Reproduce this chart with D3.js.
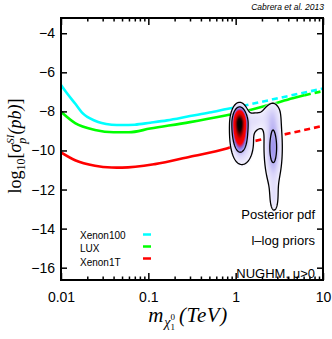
<!DOCTYPE html>
<html>
<head>
<meta charset="utf-8">
<script src="https://cdn.jsdelivr.net/npm/d3@7"></script>
<style>
  body { margin: 0; background: #fff; }
  svg { display: block; font-family: "Liberation Sans", Arial, sans-serif; }
  .axis text { font-size: 14px; fill: #000; }
  .axis line { stroke: #000; stroke-width: 1.5; }
</style>
</head>
<body>
<div id="chart"></div>
<script>
// ---- data (mass in TeV, log10 sigma in pb) ----
const massTicks = [0.01, 0.1, 1, 10];
const massLabels = ["0.01", "0.1", "1", "10"];
const sigmaTicks = [-16, -14, -12, -10, -8, -6, -4];

const xenon100Solid = [[0.01, -6.65], [0.0116, -7.05], [0.0145, -7.6], [0.0173, -8.05], [0.0245, -8.48],
  [0.0292, -8.6], [0.038, -8.68], [0.05, -8.7], [0.07, -8.68], [0.105, -8.58], [0.164, -8.46],
  [0.3, -8.24], [0.5, -8.06], [0.79, -7.88], [1.2, -7.72]];
const xenon100Dashed = [[1.2, -7.72], [10, -6.83]];

const luxSolid = [[0.01, -8.02], [0.0145, -8.6], [0.0245, -8.95], [0.04, -9.07], [0.06, -9.07],
  [0.105, -8.88], [0.3, -8.55], [0.79, -8.2], [1.0, -8.11], [2.5, -7.65], [4.5, -7.33], [6.2, -7.17]];
const luxDashed = [[6.2, -7.17], [10, -6.96]];

const xenon1tSolid = [[0.01, -10.1], [0.0145, -10.5], [0.0245, -10.78], [0.038, -10.87], [0.05, -10.88],
  [0.119, -10.7], [0.3, -10.32], [0.79, -9.9], [1.12, -9.68], [1.3, -9.62]];
const xenon1tDashed = [[1.3, -9.62], [10, -8.74]];

const legendNames = ["Xenon100", "LUX", "Xenon1T"];
const legendColors = ["#00ffff", "#00ff00", "#ff0000"];
const notes = ["Posterior pdf", "l\u2013log priors", "NUGHM, \u03bc>0"];

// posterior blobs: log10 mass centre, log10 sigma centre, widths, weight
const blobLogMass = [0.045, 0.08, 0.43, 0.44, 0.40, 0.22];
const blobLogSigma = [-8.6, -9.6, -9.85, -12.5, -8.1, -8.45];
const blobWidthMass = [0.042, 0.085, 0.058, 0.035, 0.075, 0.08];
const blobWidthUp = [0.4, 0.7, 1.15, 0.6, 0.3, 0.32];
const blobWidthDown = [0.62, 0.75, 1.15, 0.5, 0.5, 0.38];
const blobWeight = [1.0, 0.085, 0.15, 0.05, 0.04, 0.05];
const contourLevels = [0.03, 0.12];

// ---- layout ----
const width = 332, height = 339;
const margin = {top: 18, right: 9, bottom: 59, left: 61};
const x0 = margin.left, x1 = width - margin.right;
const y0 = margin.top, y1 = height - margin.bottom;

const xScale = d3.scaleLog().domain([0.01, 10]).range([x0, x1]);
const yScale = d3.scaleLinear().domain([-16.63, -3.22]).range([y1, y0]);

const svg = d3.select("#chart").append("svg")
  .attr("width", width).attr("height", height);

svg.append("clipPath").attr("id", "plotclip")
  .append("rect").attr("x", x0).attr("y", y0).attr("width", x1 - x0).attr("height", y1 - y0);

const plot = svg.append("g").attr("clip-path", "url(#plotclip)");

// ---- limit curves ----
const line = d3.line()
  .x(d => xScale(d[0]))
  .y(d => yScale(d[1]))
  .curve(d3.curveMonotoneX);

const curves = [
  [xenon100Solid, xenon100Dashed, legendColors[0]],
  [luxSolid, luxDashed, legendColors[1]],
  [xenon1tSolid, xenon1tDashed, legendColors[2]]
];
curves.forEach(c => {
  plot.append("path").datum(c[0]).attr("d", line)
    .attr("fill", "none").attr("stroke", c[2]).attr("stroke-width", 2.6);
  plot.append("path").datum(c[1]).attr("d", line)
    .attr("fill", "none").attr("stroke", c[2]).attr("stroke-width", 2.6)
    .attr("stroke-dasharray", "6,4");
});

// ---- posterior density ----
function density(u, v) {
  let s = 0;
  for (let k = 0; k < blobWeight.length; k++) {
    const du = (u - blobLogMass[k]) / blobWidthMass[k];
    const dv = v - blobLogSigma[k];
    const sv = dv > 0 ? blobWidthUp[k] : blobWidthDown[k];
    s += blobWeight[k] * Math.exp(-0.5 * (du * du + (dv / sv) * (dv / sv)));
  }
  return s;
}

const colorScale = d3.scaleLinear()
  .domain([0, 0.03, 0.08, 0.14, 0.18, 0.24, 0.3, 0.5, 0.7, 0.88, 1])
  .range(["#ffffff", "#f2f0fe", "#d9d4f9", "#a79ef0", "#8a7ae6", "#c0307a", "#ff0000",
    "#e00000", "#800000", "#150000", "#000000"])
  .clamp(true);

const pw = x1 - x0, ph = y1 - y0;
const canvas = document.createElement("canvas");
canvas.width = pw; canvas.height = ph;
const ctx = canvas.getContext("2d");
const img = ctx.createImageData(pw, ph);
for (let j = 0; j < ph; j++) {
  const v = yScale.invert(y0 + j + 0.5);
  for (let i = 0; i < pw; i++) {
    const u = Math.log10(xScale.invert(x0 + i + 0.5));
    const val = density(u, v);
    const c = d3.rgb(colorScale(val));
    const a = Math.max(0, Math.min(1, (val - 0.6 * contourLevels[0]) / (0.4 * contourLevels[0])));
    const p = (j * pw + i) * 4;
    img.data[p] = c.r; img.data[p + 1] = c.g; img.data[p + 2] = c.b;
    img.data[p + 3] = Math.round(a * 255);
  }
}
ctx.putImageData(img, 0, 0);
plot.append("image")
  .attr("href", canvas.toDataURL())
  .attr("x", x0).attr("y", y0).attr("width", pw).attr("height", ph);

// contours on a half-pixel grid
const gs = 0.5;
const nx = Math.round(pw / gs), ny = Math.round(ph / gs);
const grid = new Float64Array(nx * ny);
for (let j = 0; j < ny; j++) {
  const v = yScale.invert(y0 + (j + 0.5) * gs);
  for (let i = 0; i < nx; i++) {
    grid[j * nx + i] = density(Math.log10(xScale.invert(x0 + (i + 0.5) * gs)), v);
  }
}
const contours = d3.contours().size([nx, ny]).thresholds(contourLevels)(grid);
const contourPath = d3.geoPath(d3.geoIdentity().scale(gs).translate([x0, y0]));
plot.selectAll(".contour").data(contours).enter().append("path")
  .attr("class", "contour")
  .attr("d", contourPath)
  .attr("fill", "none").attr("stroke", "#000").attr("stroke-width", 1.3);

// ---- axes (inward ticks on all sides) ----
const minorTicks = [];
[0.01, 0.1, 1].forEach(d => { for (let k = 2; k <= 9; k++) minorTicks.push(d * k); });

svg.append("g").attr("class", "x axis")
  .attr("transform", "translate(0," + y1 + ")")
  .call(d3.axisBottom(xScale).tickValues(massTicks).tickSize(-7).tickPadding(12)
    .tickFormat((d, i) => massLabels[i]));
svg.append("g").attr("class", "x axis")
  .attr("transform", "translate(0," + y1 + ")")
  .call(d3.axisBottom(xScale).tickValues(minorTicks).tickSize(-3.5).tickFormat(""));
svg.append("g").attr("class", "x axis")
  .attr("transform", "translate(0," + y0 + ")")
  .call(d3.axisTop(xScale).tickValues(massTicks).tickSize(-7).tickFormat(""));
svg.append("g").attr("class", "x axis")
  .attr("transform", "translate(0," + y0 + ")")
  .call(d3.axisTop(xScale).tickValues(minorTicks).tickSize(-3.5).tickFormat(""));

svg.append("g").attr("class", "y axis")
  .attr("transform", "translate(" + x0 + ",0)")
  .call(d3.axisLeft(yScale).tickValues(sigmaTicks).tickSize(-6).tickPadding(6)
    .tickFormat(d => "\u2212" + Math.abs(d)));
svg.append("g").attr("class", "y axis")
  .attr("transform", "translate(" + x1 + ",0)")
  .call(d3.axisRight(yScale).tickValues(sigmaTicks).tickSize(-6).tickFormat(""));

svg.selectAll(".axis .domain").remove();

svg.append("rect")
  .attr("x", x0).attr("y", y0).attr("width", x1 - x0).attr("height", y1 - y0)
  .attr("fill", "none").attr("stroke", "#000").attr("stroke-width", 2);

// ---- legend ----
legendNames.forEach((name, i) => {
  svg.append("text")
    .attr("x", 80).attr("y", 238.7 + i * 13.6)
    .attr("font-size", 10).text(name);
  svg.append("line")
    .attr("x1", 143).attr("x2", 151)
    .attr("y1", 234.5 + i * 12).attr("y2", 234.5 + i * 12)
    .attr("stroke", legendColors[i]).attr("stroke-width", 2.5);
});

// ---- annotations ----
const noteY = [219, 245, 278];
notes.forEach((t, i) => {
  svg.append("text")
    .attr("x", 315).attr("y", noteY[i])
    .attr("text-anchor", "end").attr("font-size", 13).text(t);
});

svg.append("text")
  .attr("x", 324).attr("y", 10)
  .attr("text-anchor", "end").attr("font-size", 8.5).attr("font-style", "italic")
  .text("Cabrera et al. 2013");

// ---- axis titles (serif, LaTeX-like) ----
const ylab = svg.append("text")
  .attr("transform", "translate(21,146) rotate(-90)")
  .attr("text-anchor", "middle")
  .attr("font-family", "'Liberation Serif', 'Times New Roman', serif")
  .attr("font-size", 18);
ylab.append("tspan").text("log");
ylab.append("tspan").attr("font-size", 12).attr("dy", 4).text("10");
ylab.append("tspan").attr("dy", -4).text("[");
ylab.append("tspan").attr("font-style", "italic").text("\u03c3");
ylab.append("tspan").attr("font-style", "italic").attr("font-size", 12).attr("dy", 5).text("p");
ylab.append("tspan").attr("font-style", "italic").attr("font-size", 11).attr("dx", -6).attr("dy", -12).text("SI");
ylab.append("tspan").attr("font-style", "italic").attr("dy", 7).text("(pb)");
ylab.append("tspan").text("]");

const xlab = svg.append("text")
  .attr("x", 188).attr("y", 322)
  .attr("text-anchor", "middle")
  .attr("font-family", "'Liberation Serif', 'Times New Roman', serif")
  .attr("font-size", 21);
xlab.append("tspan").attr("font-style", "italic").text("m");
xlab.append("tspan").attr("font-style", "italic").attr("font-size", 14).attr("dy", 5).attr("dx", 1).text("\u03c7");
xlab.append("tspan").attr("font-size", 9).attr("dy", 3).text("1");
xlab.append("tspan").attr("font-size", 9).attr("dx", -4.5).attr("dy", -10).text("0");
xlab.append("tspan").attr("font-style", "italic").attr("dy", 2).attr("dx", 4).attr("letter-spacing", 0.6).text("(TeV)");
</script>
</body>
</html>
